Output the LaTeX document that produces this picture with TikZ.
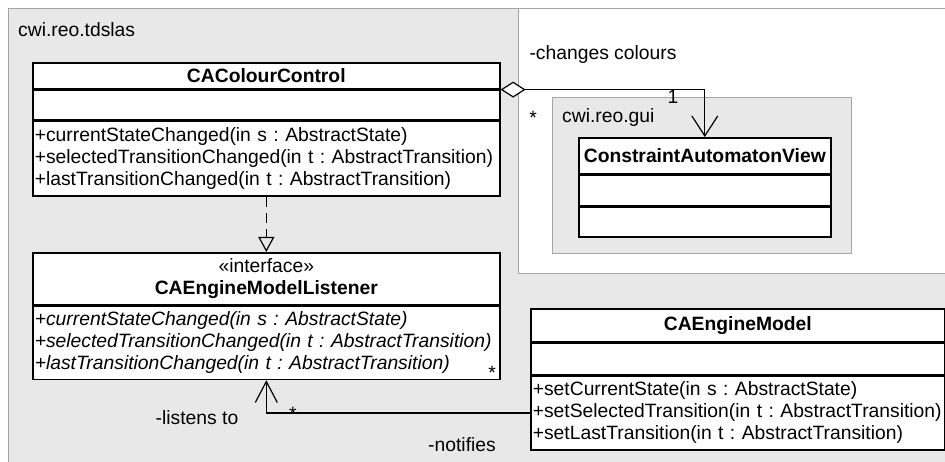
\documentclass[tikz,border=0pt]{standalone}
\usepackage{fontspec}
\setmainfont{Liberation Sans}
\usetikzlibrary{arrows.meta,positioning}
\definecolor{pkgfill}{RGB}{232,232,232}
\definecolor{pkgline}{RGB}{165,165,165}
\newcommand{\umlsize}{\fontsize{19.3pt}{22pt}\selectfont}
\frenchspacing

\begin{document}
\begin{tikzpicture}[x=1pt,y=-1pt,
  comp/.style={draw,line width=1.6pt,fill=white,inner sep=0pt,font=\umlsize},
  ops/.style={comp,inner xsep=2pt,align=left},
  lbl/.style={font=\umlsize,inner sep=0pt},
  link/.style={line width=1.2pt}]
\useasboundingbox (0,0) rectangle (945,462);
% packages
\filldraw[fill=pkgfill,draw=pkgline] (8,8) rectangle (960,480);
\filldraw[fill=white,draw=pkgline] (518,8) rectangle (960,273);
\node[lbl,anchor=west] (tdslas) at (18,30) {cwi.reo.tdslas};
\filldraw[fill=pkgfill,draw=pkgline] (552,97) rectangle (851,253);
\node[lbl,anchor=west] (gui) at (562,118) {cwi.reo.gui};

% CAColourControl
\node[comp,minimum width=467pt,minimum height=26pt,anchor=north west,font=\umlsize\bfseries] (colourName) at (32,62) {CAColourControl};
\node[comp,minimum width=467pt,minimum height=29pt,anchor=north] (colourAttr) at (colourName.south) {};
\node[ops,text width=463pt,minimum height=75pt,anchor=north] (colourOps) at (colourAttr.south)
  {+currentStateChanged(in s : AbstractState)\\+selectedTransitionChanged(in t : AbstractTransition)\\+lastTransitionChanged(in t : AbstractTransition)};

% the listener interface
\node[comp,minimum width=467pt,minimum height=52pt,anchor=north west,align=center] (listenerHead) at (32,252)
  {«interface»\\\textbf{CAEngineModelListener}};
\node[ops,text width=463pt,minimum height=73pt,anchor=north,font=\umlsize\itshape] (listenerOps) at (listenerHead.south)
  {+currentStateChanged(in s : AbstractState)\\+selectedTransitionChanged(in t : AbstractTransition)\\+lastTransitionChanged(in t : AbstractTransition)};

% CAEngineModel
\node[comp,minimum width=414pt,minimum height=33pt,anchor=north west,font=\umlsize\bfseries] (modelName) at (530,308) {CAEngineModel};
\node[comp,minimum width=414pt,minimum height=31pt,anchor=north] (modelAttr) at (modelName.south) {};
\node[ops,text width=410pt,minimum height=74pt,anchor=north] (modelOps) at (modelAttr.south)
  {+setCurrentState(in s : AbstractState)\\+setSelectedTransition(in t : AbstractTransition)\\+setLastTransition(in t : AbstractTransition)};

% ConstraintAutomatonView
\node[comp,minimum width=252pt,minimum height=36pt,anchor=north west,font=\umlsize\bfseries] (viewName) at (578,137) {ConstraintAutomatonView};
\node[comp,minimum width=252pt,minimum height=30pt,anchor=north] (viewAttr) at (viewName.south) {};
\node[comp,minimum width=252pt,minimum height=30pt,anchor=north] (viewOps) at (viewAttr.south) {};

% relations
\draw[link,dash pattern=on 10pt off 6pt,-{Triangle[open,length=15pt,width=16pt]}] (colourOps) -- (listenerHead);
\draw[link,{Diamond[fill=white,length=25pt,width=16pt]}-{Straight Barb[length=20pt,width=26pt]}] (colourName.south east) -| (viewName.north);
\draw[link,-{Straight Barb[length=21pt,width=22pt]}] (modelOps.west) -| (listenerOps.south);

% labels
\node[lbl] (changes) at (603,55) {-changes colours};
\node[lbl] (viewOne) at (673,97) {1};
\node[lbl] (colourMult) at (533,118) {*};
\node[lbl] (listens) at (197,418) {-listens to};
\node[lbl] (notifies) at (462,445) {-notifies};
\node[lbl] (modelMult) at (293,414) {*};
\node[lbl] (listenerMult) at (492,373) {*};
\end{tikzpicture}
\end{document}
